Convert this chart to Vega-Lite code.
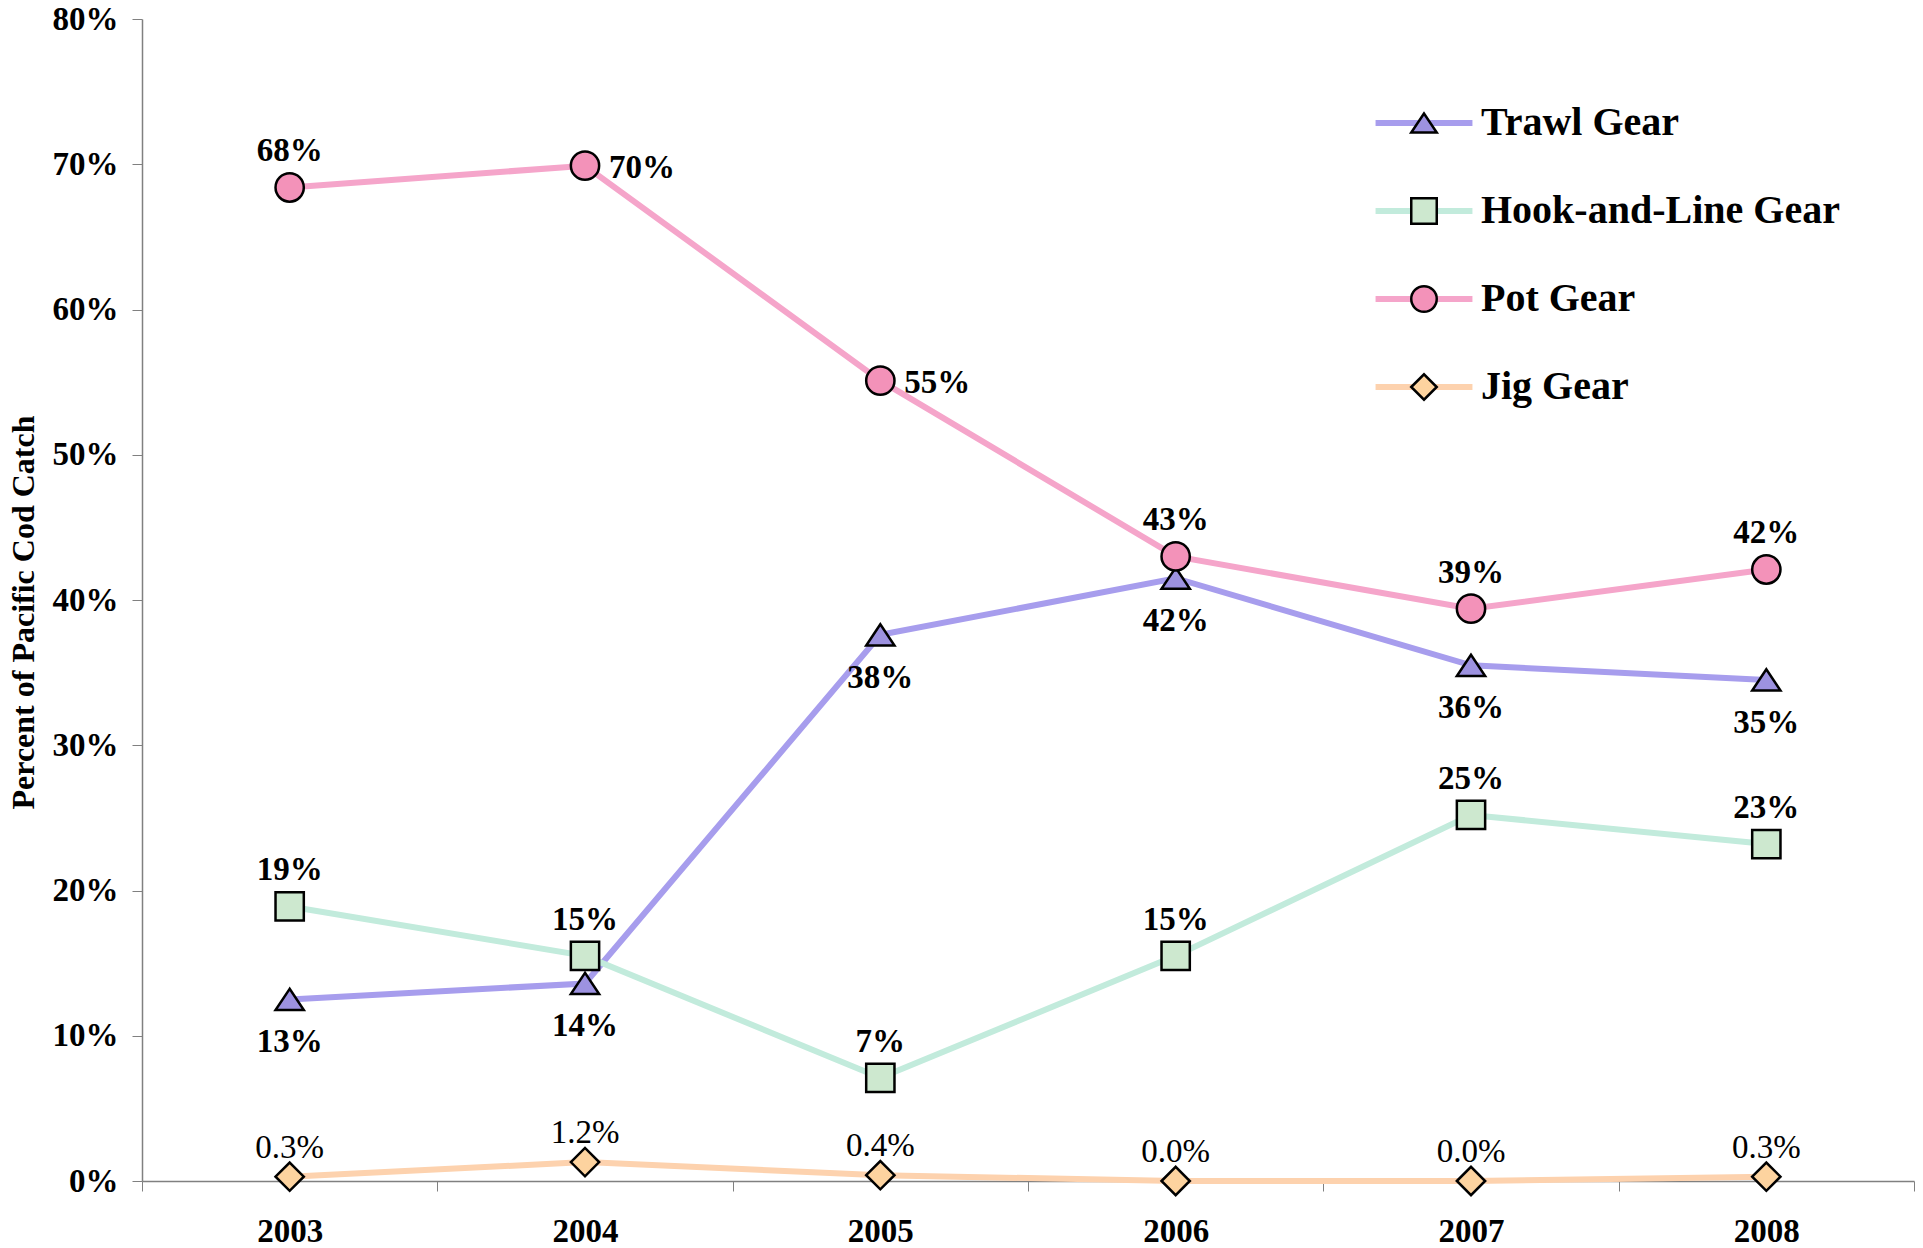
{
  "$schema": "https://vega.github.io/schema/vega-lite/v6.json",
  "width": 1772,
  "height": 1162,
  "autosize": {"type": "none"},
  "padding": {"left": 142, "top": 19, "right": 9, "bottom": 67},
  "background": "white",
  "config": {"view": {"stroke": null}},
  "data": {
    "values": [
      {"year": 2003, "gear": "Trawl Gear", "pct": 12.5, "label": "13%"},
      {"year": 2004, "gear": "Trawl Gear", "pct": 13.6, "label": "14%"},
      {"year": 2005, "gear": "Trawl Gear", "pct": 37.6, "label": "38%"},
      {"year": 2006, "gear": "Trawl Gear", "pct": 41.5, "label": "42%"},
      {"year": 2007, "gear": "Trawl Gear", "pct": 35.5, "label": "36%"},
      {"year": 2008, "gear": "Trawl Gear", "pct": 34.5, "label": "35%"},
      {"year": 2003, "gear": "Hook-and-Line Gear", "pct": 18.9, "label": "19%"},
      {"year": 2004, "gear": "Hook-and-Line Gear", "pct": 15.5, "label": "15%"},
      {"year": 2005, "gear": "Hook-and-Line Gear", "pct": 7.1, "label": "7%"},
      {"year": 2006, "gear": "Hook-and-Line Gear", "pct": 15.5, "label": "15%"},
      {"year": 2007, "gear": "Hook-and-Line Gear", "pct": 25.2, "label": "25%"},
      {"year": 2008, "gear": "Hook-and-Line Gear", "pct": 23.2, "label": "23%"},
      {"year": 2003, "gear": "Pot Gear", "pct": 68.4, "label": "68%"},
      {"year": 2004, "gear": "Pot Gear", "pct": 69.9, "label": "70%"},
      {"year": 2005, "gear": "Pot Gear", "pct": 55.1, "label": "55%"},
      {"year": 2006, "gear": "Pot Gear", "pct": 43.0, "label": "43%"},
      {"year": 2007, "gear": "Pot Gear", "pct": 39.4, "label": "39%"},
      {"year": 2008, "gear": "Pot Gear", "pct": 42.1, "label": "42%"},
      {"year": 2003, "gear": "Jig Gear", "pct": 0.3, "label": "0.3%"},
      {"year": 2004, "gear": "Jig Gear", "pct": 1.3, "label": "1.2%"},
      {"year": 2005, "gear": "Jig Gear", "pct": 0.4, "label": "0.4%"},
      {"year": 2006, "gear": "Jig Gear", "pct": 0.0, "label": "0.0%"},
      {"year": 2007, "gear": "Jig Gear", "pct": 0.0, "label": "0.0%"},
      {"year": 2008, "gear": "Jig Gear", "pct": 0.3, "label": "0.3%"}
    ]
  },
  "encoding": {
    "x": {
      "field": "year",
      "type": "quantitative",
      "scale": {"domain": [2002.5, 2008.5], "nice": false, "zero": false},
      "axis": {
        "title": null,
        "grid": false,
        "values": [2002.5, 2003, 2003.5, 2004, 2004.5, 2005, 2005.5, 2006, 2006.5, 2007, 2007.5, 2008, 2008.5],
        "labelExpr": "datum.value % 1 === 0 ? '' + datum.value : ''",
        "tickOpacity": {"condition": {"test": "datum.value % 1 === 0", "value": 0}, "value": 1},
        "tickSize": 10,
        "tickColor": "#808080",
        "domainColor": "#808080",
        "domainWidth": 1.5,
        "labelPadding": 24,
        "labelFont": "Liberation Serif",
        "labelFontSize": 33,
        "labelFontWeight": "bold",
        "labelColor": "black",
        "labelFlush": false,
        "labelOverlap": false
      }
    },
    "y": {
      "field": "pct",
      "type": "quantitative",
      "scale": {"domain": [0, 80], "nice": false},
      "axis": {
        "title": "Percent of Pacific Cod Catch",
        "titleFont": "Liberation Serif",
        "titleFontSize": 32,
        "titleFontWeight": "bold",
        "titleColor": "black",
        "titlePadding": 12,
        "titleY": 593,
        "grid": false,
        "values": [0, 10, 20, 30, 40, 50, 60, 70, 80],
        "labelExpr": "datum.value + '%'",
        "tickSize": 10,
        "tickColor": "#808080",
        "domainColor": "#808080",
        "domainWidth": 1.5,
        "labelPadding": 14,
        "labelFont": "Liberation Serif",
        "labelFontSize": 33,
        "labelFontWeight": "bold",
        "labelColor": "black",
        "labelOverlap": false
      }
    }
  },
  "layer": [
    {
      "mark": {"type": "line", "strokeWidth": 6},
      "encoding": {
        "color": {
          "field": "gear",
          "type": "nominal",
          "sort": ["Trawl Gear", "Hook-and-Line Gear", "Pot Gear", "Jig Gear"],
          "scale": {"range": ["#a79ded", "#c2ebdc", "#f5a5ca", "#fdd2ae"]},
          "legend": {
            "orient": "none",
            "legendX": 1262,
            "legendY": 84,
            "title": null,
            "padding": 0,
            "symbolType": "M-3.8,0L3.8,0",
            "symbolSize": 650,
            "symbolStrokeWidth": 6,
            "labelFont": "Liberation Serif",
            "labelFontSize": 40,
            "labelFontWeight": "bold",
            "labelColor": "transparent",
            "labelLimit": 500,
            "labelOffset": 37,
            "rowPadding": 48,
            "zindex": 1
          }
        }
      }
    },
    {
      "mark": {"type": "point", "filled": true, "strokeWidth": 2.5, "size": 800, "opacity": 1},
      "encoding": {
        "fill": {
          "field": "gear",
          "type": "nominal",
          "scale": {
            "domain": ["Trawl Gear", "Hook-and-Line Gear", "Pot Gear", "Jig Gear"],
            "range": ["#9d92e0", "#cde8cf", "#f392b9", "#fdd39f"]
          },
          "legend": {
            "orient": "none",
            "legendX": 1262,
            "legendY": 84,
            "title": null,
            "padding": 0,
            "symbolSize": 650,
            "symbolStrokeWidth": 2.5,
            "symbolOpacity": 1,
            "labelFont": "Liberation Serif",
            "labelFontSize": 40,
            "labelFontWeight": "bold",
            "labelColor": "black",
            "labelLimit": 500,
            "labelOffset": 37,
            "rowPadding": 48,
            "zindex": 2
          }
        },
        "stroke": {
          "field": "gear",
          "type": "nominal",
          "scale": {
            "domain": ["Trawl Gear", "Hook-and-Line Gear", "Pot Gear", "Jig Gear"],
            "range": ["#000000", "#000000", "#000000", "#000000"]
          },
          "legend": {
            "orient": "none",
            "legendX": 1262,
            "legendY": 84,
            "title": null,
            "padding": 0,
            "symbolSize": 650,
            "symbolStrokeWidth": 2.5,
            "symbolOpacity": 1,
            "labelFont": "Liberation Serif",
            "labelFontSize": 40,
            "labelFontWeight": "bold",
            "labelColor": "black",
            "labelLimit": 500,
            "labelOffset": 37,
            "rowPadding": 48,
            "zindex": 2
          }
        },
        "shape": {
          "field": "gear",
          "type": "nominal",
          "scale": {
            "domain": ["Trawl Gear", "Hook-and-Line Gear", "Pot Gear", "Jig Gear"],
            "range": ["M0,-0.75L-1,0.75L1,0.75Z", "square", "circle", "diamond"]
          },
          "legend": {
            "orient": "none",
            "legendX": 1262,
            "legendY": 84,
            "title": null,
            "padding": 0,
            "symbolSize": 650,
            "symbolStrokeWidth": 2.5,
            "symbolOpacity": 1,
            "labelFont": "Liberation Serif",
            "labelFontSize": 40,
            "labelFontWeight": "bold",
            "labelColor": "black",
            "labelLimit": 500,
            "labelOffset": 37,
            "rowPadding": 48,
            "zindex": 2
          }
        }
      }
    },
    {
      "transform": [{"filter": "datum.gear === 'Hook-and-Line Gear' || (datum.gear === 'Pot Gear' && datum.year !== 2004 && datum.year !== 2005)"}],
      "mark": {"type": "text", "font": "Liberation Serif", "fontSize": 33, "fontWeight": "bold", "color": "black", "dy": -36},
      "encoding": {"text": {"field": "label"}}
    },
    {
      "transform": [{"filter": "datum.gear === 'Jig Gear'"}],
      "mark": {"type": "text", "font": "Liberation Serif", "fontSize": 33, "fontWeight": "normal", "color": "black", "dy": -29},
      "encoding": {"text": {"field": "label"}}
    },
    {
      "transform": [{"filter": "datum.gear === 'Trawl Gear'"}],
      "mark": {"type": "text", "font": "Liberation Serif", "fontSize": 33, "fontWeight": "bold", "color": "black", "dy": 43},
      "encoding": {"text": {"field": "label"}}
    },
    {
      "transform": [{"filter": "datum.gear === 'Pot Gear' && (datum.year === 2004 || datum.year === 2005)"}],
      "mark": {"type": "text", "font": "Liberation Serif", "fontSize": 33, "fontWeight": "bold", "color": "black", "align": "left", "dx": 24, "dy": 2},
      "encoding": {"text": {"field": "label"}}
    }
  ]
}
